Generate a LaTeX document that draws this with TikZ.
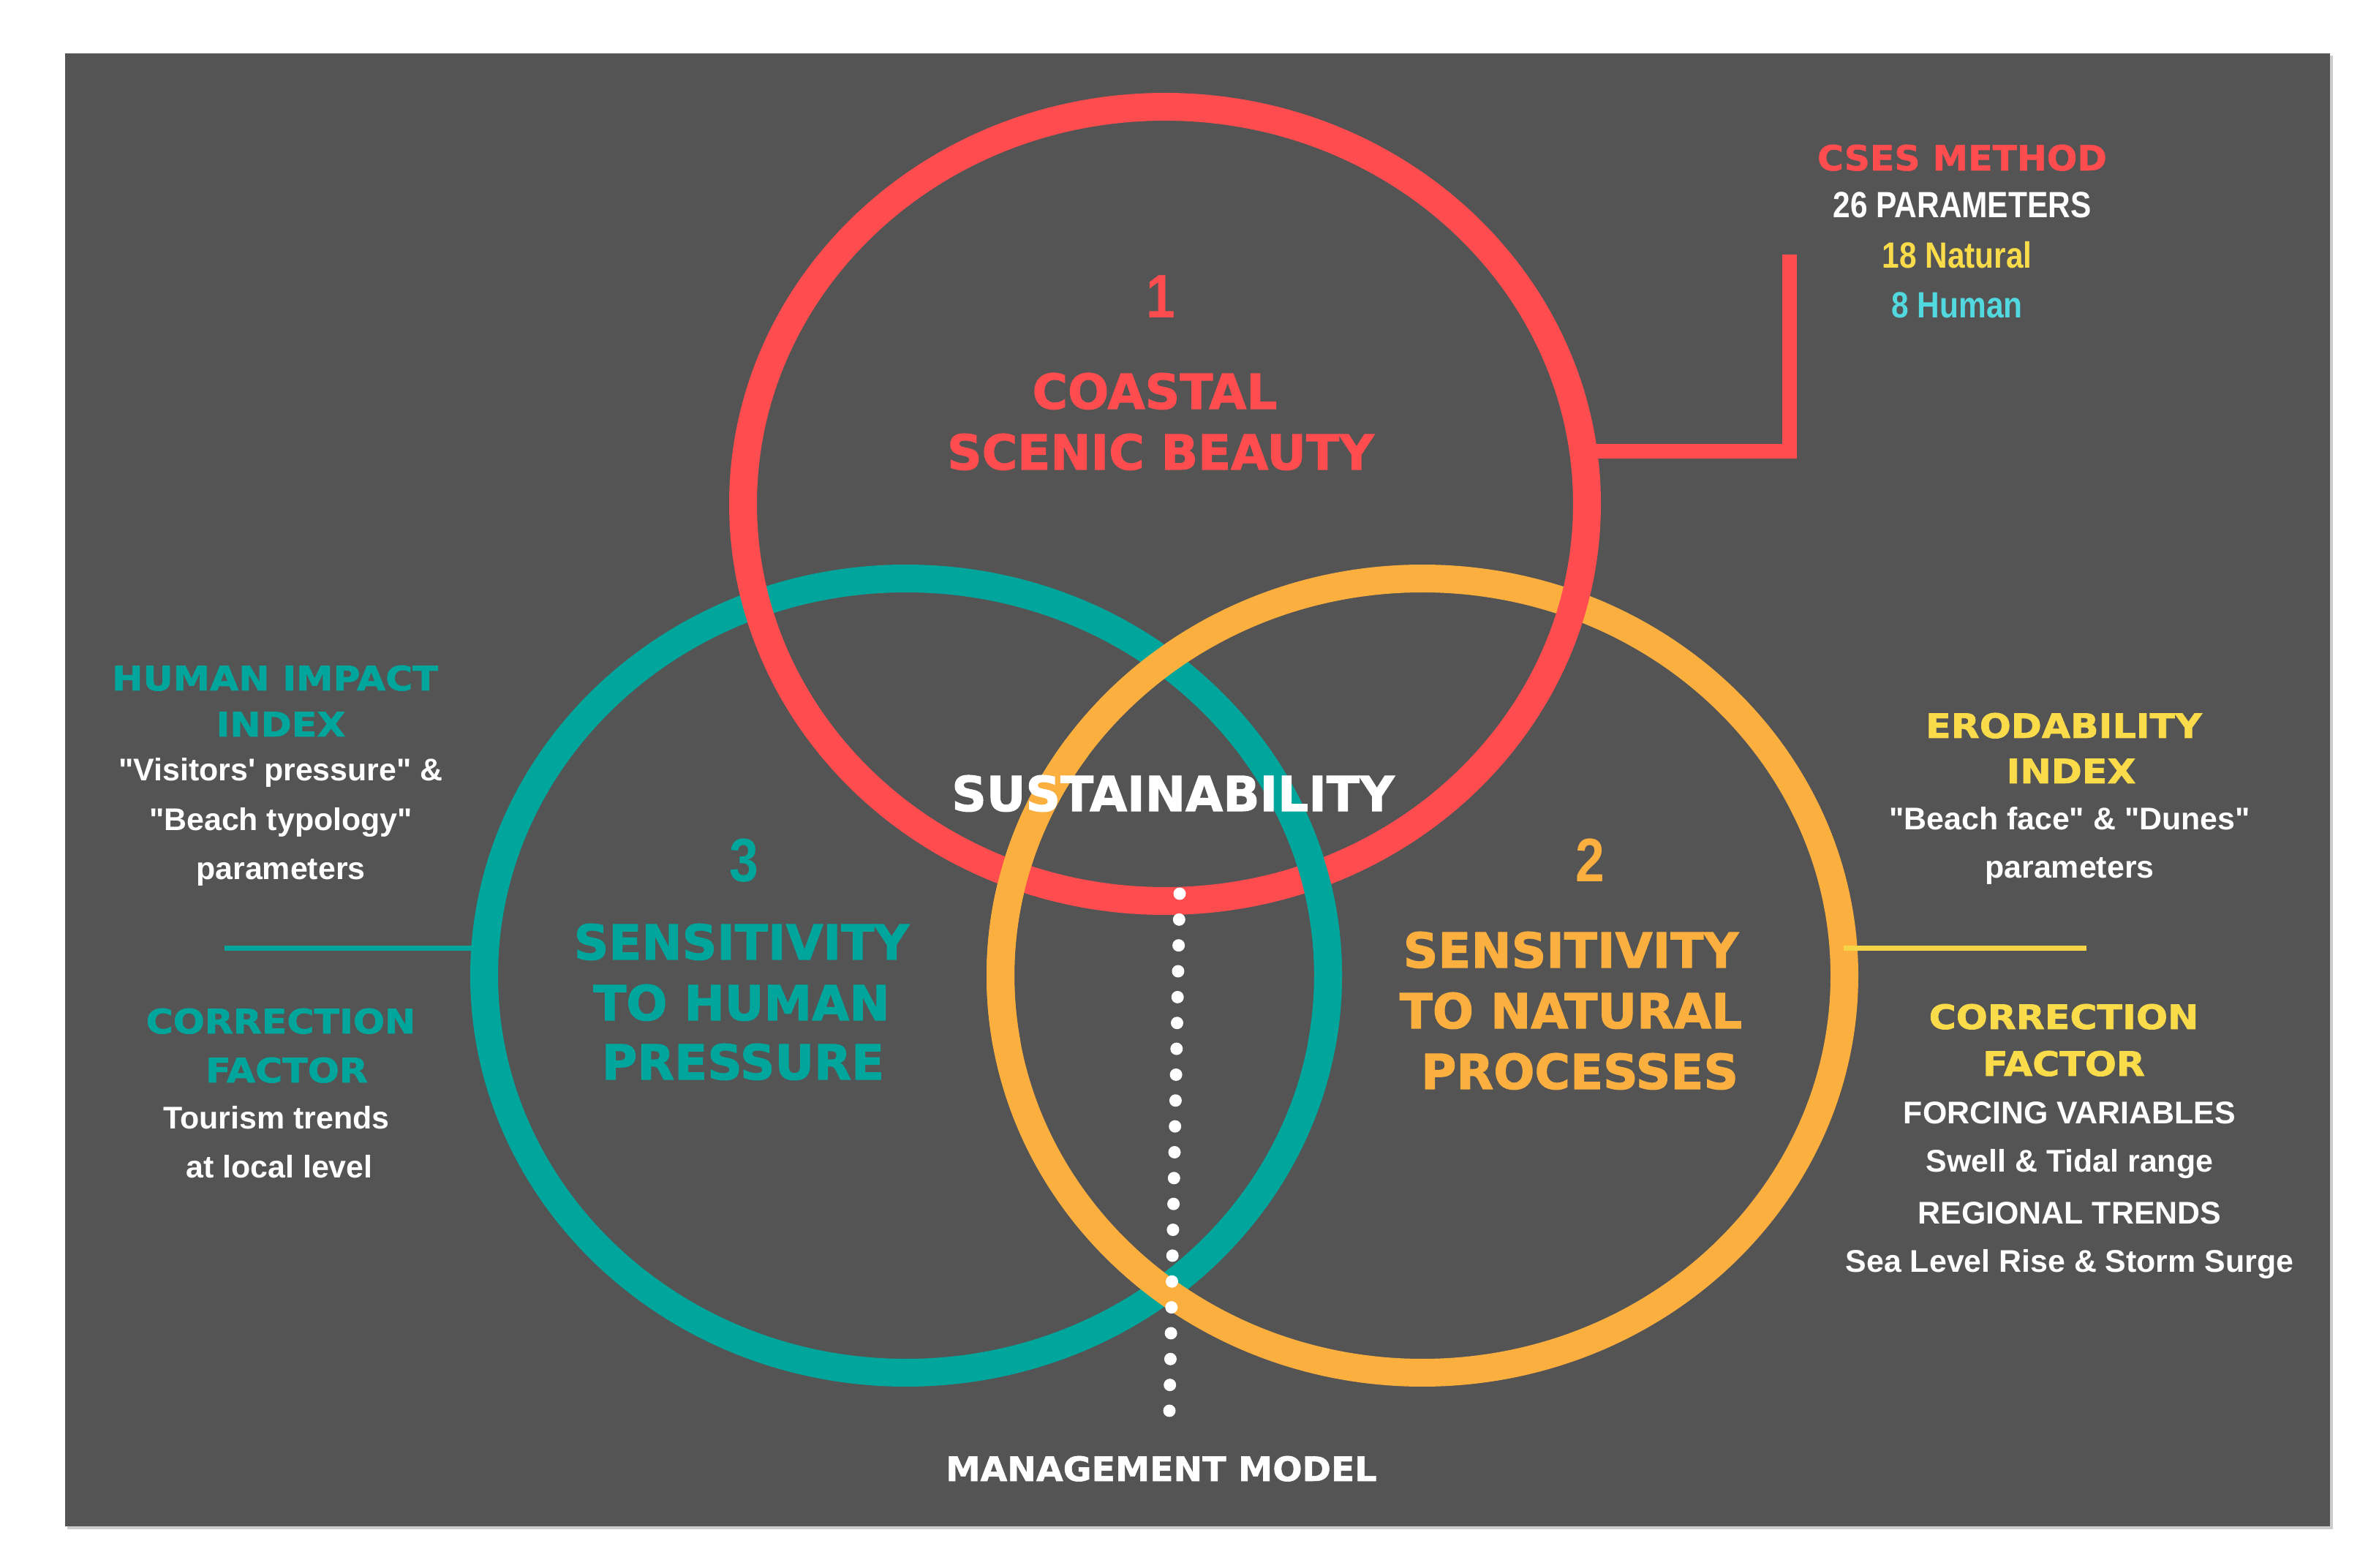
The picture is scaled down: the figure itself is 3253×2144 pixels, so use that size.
\documentclass[tikz,border=0pt]{standalone}
\usepackage{fontspec}
\usetikzlibrary{calc}
\newfontfamily\heavy{DejaVu Sans}[BoldFeatures={FakeBold=1.6}]
\newfontfamily\heavyw{DejaVu Sans}[FakeStretch=1.1,BoldFeatures={FakeBold=1.6}]
\newfontfamily\heavyn{DejaVu Sans}[FakeStretch=1.03,BoldFeatures={FakeBold=1.2}]
\newfontfamily\lib{Liberation Sans}
\newfontfamily\libc{Liberation Sans}[FakeStretch=0.85]
\definecolor{bgc}{HTML}{545454}
\definecolor{cred}{HTML}{FF4D4F}
\definecolor{cteal}{HTML}{00A69C}
\definecolor{corange}{HTML}{FBAF3F}
\definecolor{cyel}{HTML}{FADB4A}
\definecolor{cline}{HTML}{F5D547}
\definecolor{ccyan}{HTML}{52D9E0}
\tikzset{
  ring/.style={line width=3.8mm},
  ttl/.style={font=\heavy\bfseries\fontsize{18.8pt}{20pt}\selectfont, anchor=base, inner sep=0pt},
  numb/.style={font=\libc\bfseries\fontsize{23.9pt}{26pt}\selectfont, anchor=base, inner sep=0pt},
  hdg/.style={font=\heavyw\bfseries\fontsize{13.1pt}{15pt}\selectfont, anchor=base, inner sep=0pt},
  body/.style={font=\lib\bfseries\fontsize{12.2pt}{14pt}\selectfont, text=white, anchor=base, inner sep=0pt},
  cond/.style={font=\libc\bfseries\fontsize{14.2pt}{16pt}\selectfont, anchor=base, inner sep=0pt},
}
\begin{document}
\begin{tikzpicture}[x=0.1mm,y=-0.1mm]
\useasboundingbox (0,0) rectangle (3253,2144);
\fill[white] (0,0) rectangle (3253,2144);
\fill[black!20] (92,76) rectangle (3190,2091);
\fill[bgc] (89,73) rectangle (3186,2087);

% centres
\coordinate (rc) at (1593,689);
\coordinate (tc) at (1239,1334);
\coordinate (oc) at (1945,1334);

% rings
\draw[ring,cteal] (tc) ellipse [x radius=57.7mm, y radius=54.3mm];
\draw[ring,corange] (oc) ellipse [x radius=57.7mm, y radius=54.3mm];
\draw[ring,cred] (rc) ellipse [x radius=57.7mm, y radius=54.3mm];
% interlocking: teal and orange over red at the lower crossings
\draw[ring,cteal] ($(tc)+(-10:57.7mm and 54.3mm)$) arc[start angle=-10,end angle=35,x radius=57.7mm,y radius=54.3mm];
\draw[ring,corange] ($(oc)+(145:57.7mm and 54.3mm)$) arc[start angle=145,end angle=190,x radius=57.7mm,y radius=54.3mm];

% connectors
\coordinate (rA) at (2165,617);
\coordinate (rB) at (2447,617);
\coordinate (rC) at (2447,348);
\draw[cred,line width=2mm] (rA) -- (rB) -- (rC);
\coordinate (tA) at (663,1297);
\coordinate (tB) at (307,1297);
\draw[cteal,line width=0.7mm] (tA) -- (tB);
\coordinate (oA) at (2521,1297);
\coordinate (oB) at (2853,1297);
\draw[cline,line width=0.7mm] (oA) -- (oB);

% dotted management line
\coordinate (dtop) at (1613,1222);
\coordinate (dbot) at (1599,1929);
\foreach \i in {0,...,20} \fill[white] ($(dtop)!\i/20!(dbot)$) circle (0.85mm);

% red circle texts
\node[numb,text=cred] (n1) at (1587,435) {1};
\node[ttl,text=cred] (c1) at (1579,559) {COASTAL};
\node[ttl,text=cred] (c2) at (1587,642) {SCENIC BEAUTY};
\node[ttl,text=white] (sus) at (1604,1109) {SUSTAINABILITY};

% teal circle texts
\node[numb,text=cteal] (n3) at (1017,1206) {3};
\node[ttl,text=cteal] (t1) at (1014,1312) {SENSITIVITY};
\node[ttl,text=cteal] (t2) at (1014,1395) {TO HUMAN};
\node[ttl,text=cteal] (t3) at (1016,1476) {PRESSURE};

% orange circle texts
\node[numb,text=corange] (n2) at (2174,1206) {2};
\node[ttl,text=corange] (o1) at (2148,1323) {SENSITIVITY};
\node[ttl,text=corange] (o2) at (2148,1406) {TO NATURAL};
\node[ttl,text=corange] (o3) at (2160,1489) {PROCESSES};

% left block
\node[hdg,text=cteal] (l1) at (376,944) {HUMAN IMPACT};
\node[hdg,text=cteal] (l2) at (384,1007) {INDEX};
\node[body] (l3) at (384,1068) {"Visitors' pressure" \&};
\node[body] (l4) at (384,1136) {"Beach typology"};
\node[body] (l5) at (384,1203) {parameters};
\node[hdg,text=cteal] (l6) at (384,1413) {CORRECTION};
\node[hdg,text=cteal] (l7) at (392,1480) {FACTOR};
\node[body] (l8) at (378,1543) {Tourism trends};
\node[body] (l9) at (382,1610) {at local level};

% right block
\node[hdg,text=cyel] (r1) at (2822,1009) {ERODABILITY};
\node[hdg,text=cyel] (r2) at (2832,1071) {INDEX};
\node[body] (r3) at (2830,1135) {"Beach face" \& "Dunes"};
\node[body] (r4) at (2830,1201) {parameters};
\node[hdg,text=cyel] (r5) at (2822,1407) {CORRECTION};
\node[hdg,text=cyel] (r6) at (2822,1471) {FACTOR};
\node[body] (r7) at (2830,1536) {FORCING VARIABLES};
\node[body] (r8) at (2830,1602) {Swell \& Tidal range};
\node[body] (r9) at (2830,1673) {REGIONAL TRENDS};
\node[body] (r10) at (2830,1739) {Sea Level Rise \& Storm Surge};

% top right block
\node[font=\heavyn\bfseries\fontsize{13.5pt}{15pt}\selectfont, anchor=base, inner sep=0pt, text=cred] (m1) at (2683,233) {CSES METHOD};
\node[cond,text=white] (m2) at (2683,298) {26 PARAMETERS};
\node[cond,text=cyel] (m3) at (2676,367) {18 Natural};
\node[cond,text=ccyan] (m4) at (2676,435) {8 Human};

% bottom label
\node[font=\heavyn\bfseries\fontsize{13.1pt}{15pt}\selectfont, anchor=base, inner sep=0pt, text=white] (mm) at (1588,2025) {MANAGEMENT MODEL};
\end{tikzpicture}
\end{document}
